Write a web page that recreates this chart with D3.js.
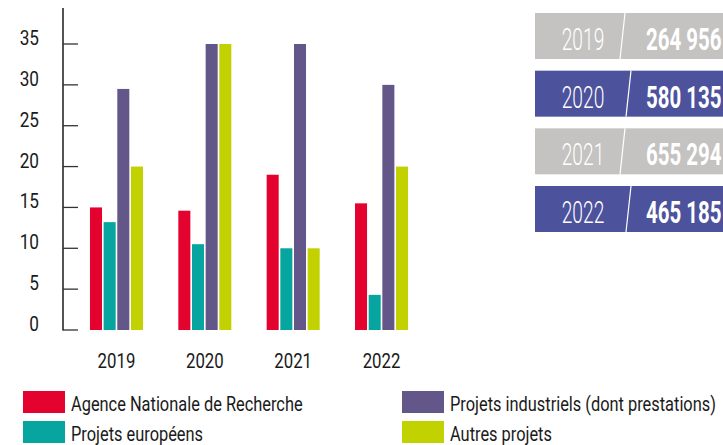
<!DOCTYPE html>
<html><head><meta charset="utf-8">
<script src="https://cdn.jsdelivr.net/npm/d3@7"></script>
<style>
html,body{margin:0;padding:0;background:#fff;overflow:hidden}
text{font-family:Roboto,"Liberation Sans",sans-serif}
</style></head>
<body>
<svg id="c" width="723" height="445"></svg>
<script>
// ---- data ----
const years = ["2019", "2020", "2021", "2022"];
const series = ["Agence Nationale de Recherche", "Projets européens", "Projets industriels (dont prestations)", "Autres projets"];
const anr = [15, 14.6, 19, 15.5];
const europe = [13.2, 10.5, 10, 4.3];
const industriels = [29.5, 35, 35, 30];
const autres = [20, 35, 10, 20];
const yTicks = [0, 5, 10, 15, 20, 25, 30, 35];
const totalYears = ["2019", "2020", "2021", "2022"];
const totals = ["264 956 €", "580 135 €", "655 294 €", "465 185 €"];

// ---- styles ----
const colors = ["#e4032e", "#07a59f", "#635688", "#c2d100"];
const boxColors = ["#c4c3c1", "#4d529c", "#c4c3c1", "#4d529c"];
const values = [anr, europe, industriels, autres];

const svg = d3.select("#c");

function stext(g, x, y, str, size, sx, anchor, weight, fill) {
  const t = g.append("text")
    .attr("transform", `translate(${x},${y}) scale(${sx},1)`)
    .attr("text-anchor", anchor || "start")
    .attr("font-size", size)
    .attr("font-weight", weight || 400)
    .attr("fill", fill || "#1a1a1a")
    .text(str);
  return t;
}

// scales
const y = d3.scaleLinear().domain([0, 35]).range([330, 44]);
const x0 = d3.scaleBand().domain(years).range([72.3, 425.7]).paddingInner(0.4).paddingOuter(0.2);
const x1 = d3.scaleBand().domain(d3.range(series.length)).range([0, x0.bandwidth()]).paddingInner(0.12);

// axis
const axX = 63;
svg.append("line").attr("x1", axX).attr("x2", axX).attr("y1", 8).attr("y2", y(0) + 0.5)
  .attr("stroke", "#1a1a1a").attr("stroke-width", 1.5);
yTicks.forEach(v => {
  svg.append("line").attr("x1", axX).attr("x2", 78).attr("y1", y(v)).attr("y2", y(v))
    .attr("stroke", "#333").attr("stroke-width", 1.3);
  stext(svg, 39, y(v) + 1, String(v), 21, 0.82, "end");
});

// bars
years.forEach((yr, i) => {
  const g = svg.append("g").attr("transform", `translate(${x0(yr)},0)`);
  values.forEach((arr, s) => {
    g.append("rect")
      .attr("x", x1(s)).attr("width", x1.bandwidth())
      .attr("y", y(arr[i])).attr("height", y(0) - y(arr[i]))
      .attr("fill", colors[s]);
  });
  stext(svg, x0(yr) + x0.bandwidth() / 2, 368, yr, 21, 0.8, "middle");
});

// right panel totals
const yb = d3.scaleBand().domain(totalYears).range([13, 232]).paddingInner(0.2023);
totalYears.forEach((yr, i) => {
  const top = yb(yr), h = yb.bandwidth();
  svg.append("rect").attr("x", 535).attr("y", top).attr("width", 250).attr("height", h).attr("fill", boxColors[i]);
  const off = (i % 2 === 0) ? 0 : 6;
  svg.append("line").attr("x1", 625 + off).attr("y1", top).attr("x2", 620 + off).attr("y2", top + h)
    .attr("stroke", "#fff").attr("stroke-width", 1.2);
  stext(svg, 583, top + 37, yr, 31, 0.62, "middle", 300, "#fff");
  stext(svg, 646, top + 37, totals[i], 31, 0.66, "start", 700, "#fff");
});

// legend
const legPos = [[23, 391], [23, 421], [402, 391], [402, 421]];
series.forEach((name, s) => {
  const [lx, ly] = legPos[s];
  svg.append("rect").attr("x", lx).attr("y", ly).attr("width", 42).attr("height", 22).attr("fill", colors[s]);
  stext(svg, lx + 48, ly + 20, name, 20, 0.82, "start");
});
</script>
</body></html>
